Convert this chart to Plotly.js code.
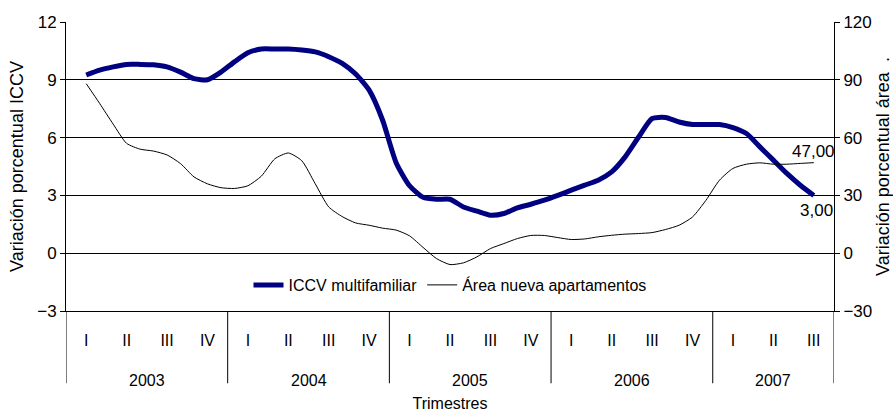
<!DOCTYPE html>
<html>
<head>
<meta charset="utf-8">
<script src="https://cdn.plot.ly/plotly-3.0.1.min.js"></script>
<style>html,body{margin:0;padding:0;background:#fff;}#chart{width:893px;height:412px;}</style>
</head>
<body>
<div id="chart"></div>
<script>
// Quarter labels (x-axis level 1) and years (level 2)
const quarterLabels = ['I','II','III','IV','I','II','III','IV','I','II','III','IV','I','II','III','IV','I','II','III'];
const years = ['2003','2004','2005','2006','2007'];
const quartersPerYear = [4,4,4,4,3];

// Monthly observations, Q1 2003 to Q3 2007 (3 per quarter)
const iccvMultifamiliar = [
  9.25, 9.5, 9.67, 9.8, 9.8, 9.78, 9.67, 9.4, 9.06, 9.0,
  9.4, 9.93, 10.4, 10.6, 10.6, 10.6, 10.55, 10.45, 10.2, 9.85,
  9.3, 8.46, 6.9, 4.7, 3.5, 2.9, 2.8, 2.8, 2.4, 2.18,
  1.97, 2.06, 2.35, 2.54, 2.75, 3.0, 3.27, 3.53, 3.79, 4.22,
  5.0, 6.03, 6.99, 7.04, 6.81, 6.68, 6.68, 6.68, 6.52, 6.21,
  5.52, 4.83, 4.14, 3.53, 3.0
];
const areaNuevaApartamentos = [
  88, 77.7, 67, 57, 54, 53, 51, 46.5, 39.6, 36,
  34, 33.6, 35, 40, 49, 52, 48, 36, 24, 19,
  15.7, 14.5, 13, 12, 9, 3, -2.8, -5.9, -5, -1.9,
  2.4, 5, 7.6, 9.2, 9.2, 8.1, 7.1, 7.4, 8.5, 9.3,
  9.9, 10.2, 10.7, 12.3, 14.5, 18.8, 27.5, 37.9, 44, 46.2,
  46.9, 46.2, 46.2, 46.6, 47
];

const xMonths = iccvMultifamiliar.map((_, i) => i / 3);
const fmt = v => v.toFixed(2).replace('.', ',');
const FONT = 'Liberation Sans, Arial, sans-serif';

const traces = [
  {
    x: xMonths, y: iccvMultifamiliar, type: 'scatter', mode: 'lines',
    name: 'ICCV multifamiliar', yaxis: 'y',
    line: {color: '#000080', width: 5, shape: 'spline', smoothing: 0.6}
  },
  {
    x: xMonths, y: areaNuevaApartamentos, type: 'scatter', mode: 'lines',
    name: 'Área nueva apartamentos', yaxis: 'y2',
    line: {color: '#000000', width: 1, shape: 'spline', smoothing: 0.6}
  }
];

// Year separators and year labels
const shapes = [];
const annotations = [];
let start = -0.5;
shapes.push({type: 'line', xref: 'x', yref: 'paper', x0: start, x1: start, y0: 0, y1: -0.25, line: {color: '#000', width: 1}});
years.forEach((yr, k) => {
  const end = start + quartersPerYear[k];
  shapes.push({type: 'line', xref: 'x', yref: 'paper', x0: end, x1: end, y0: 0, y1: -0.25, line: {color: '#000', width: 1}});
  annotations.push({
    x: (start + end) / 2, xref: 'x', y: -0.239, yref: 'paper',
    text: yr, showarrow: false, xanchor: 'center', yanchor: 'middle',
    font: {family: FONT, size: 16, color: '#000'}
  });
  start = end;
});

const lastI = iccvMultifamiliar.length - 1;
annotations.push({
  x: xMonths[lastI], y: areaNuevaApartamentos[lastI], xref: 'x', yref: 'y2',
  text: fmt(areaNuevaApartamentos[lastI]), showarrow: false,
  xanchor: 'center', yanchor: 'bottom', yshift: 0,
  font: {family: FONT, size: 17, color: '#000'}
});
annotations.push({
  x: xMonths[lastI], y: iccvMultifamiliar[lastI], xref: 'x', yref: 'y',
  text: fmt(iccvMultifamiliar[lastI]), showarrow: false,
  xanchor: 'center', yanchor: 'top', xshift: 3, yshift: -4,
  font: {family: FONT, size: 17, color: '#000'}
});

const layout = {
  width: 893, height: 412,
  margin: {l: 66, r: 59, t: 22, b: 101},
  paper_bgcolor: '#fff', plot_bgcolor: '#fff',
  font: {family: FONT, size: 15, color: '#000'},
  showlegend: true,
  legend: {
    orientation: 'h', x: 0.5, xanchor: 'center', y: 0.09, yanchor: 'middle',
    bgcolor: 'rgba(0,0,0,0)', font: {family: FONT, size: 16, color: '#000'},
    itemwidth: 30, tracegroupgap: 0
  },
  xaxis: {
    range: [-0.5, 18.5], tickmode: 'array',
    tickvals: quarterLabels.map((_, i) => i), ticktext: quarterLabels,
    ticks: '', showgrid: false, zeroline: false,
    showline: true, linecolor: '#000', linewidth: 1,
    tickfont: {family: FONT, size: 16, color: '#000'},
    ticklabelstandoff: 15,
    title: {text: 'Trimestres', font: {family: FONT, size: 16, color: '#000'}, standoff: 49}
  },
  yaxis: {
    range: [-3, 12], dtick: 3, tick0: 0,
    showgrid: true, gridcolor: '#000', gridwidth: 1,
    zeroline: false, showline: true, linecolor: '#000', linewidth: 1,
    ticks: 'outside', ticklen: 5, tickcolor: '#000',
    tickfont: {family: FONT, size: 17, color: '#000'},
    title: {text: 'Variación porcentual ICCV', font: {family: FONT, size: 18, color: '#000'}, standoff: 8}
  },
  yaxis2: {
    range: [-30, 120], dtick: 30, tick0: 0, overlaying: 'y', side: 'right',
    showgrid: false, zeroline: false, showline: true, linecolor: '#000', linewidth: 1,
    ticks: 'outside', ticklen: 5, tickcolor: '#000',
    tickfont: {family: FONT, size: 17, color: '#000'},
    title: {text: 'Variación porcentual área  .', font: {family: FONT, size: 18, color: '#000'}, standoff: 5}
  },
  shapes: shapes,
  annotations: annotations
};

Plotly.newPlot('chart', traces, layout, {displayModeBar: false, staticPlot: true});
</script>
</body>
</html>
